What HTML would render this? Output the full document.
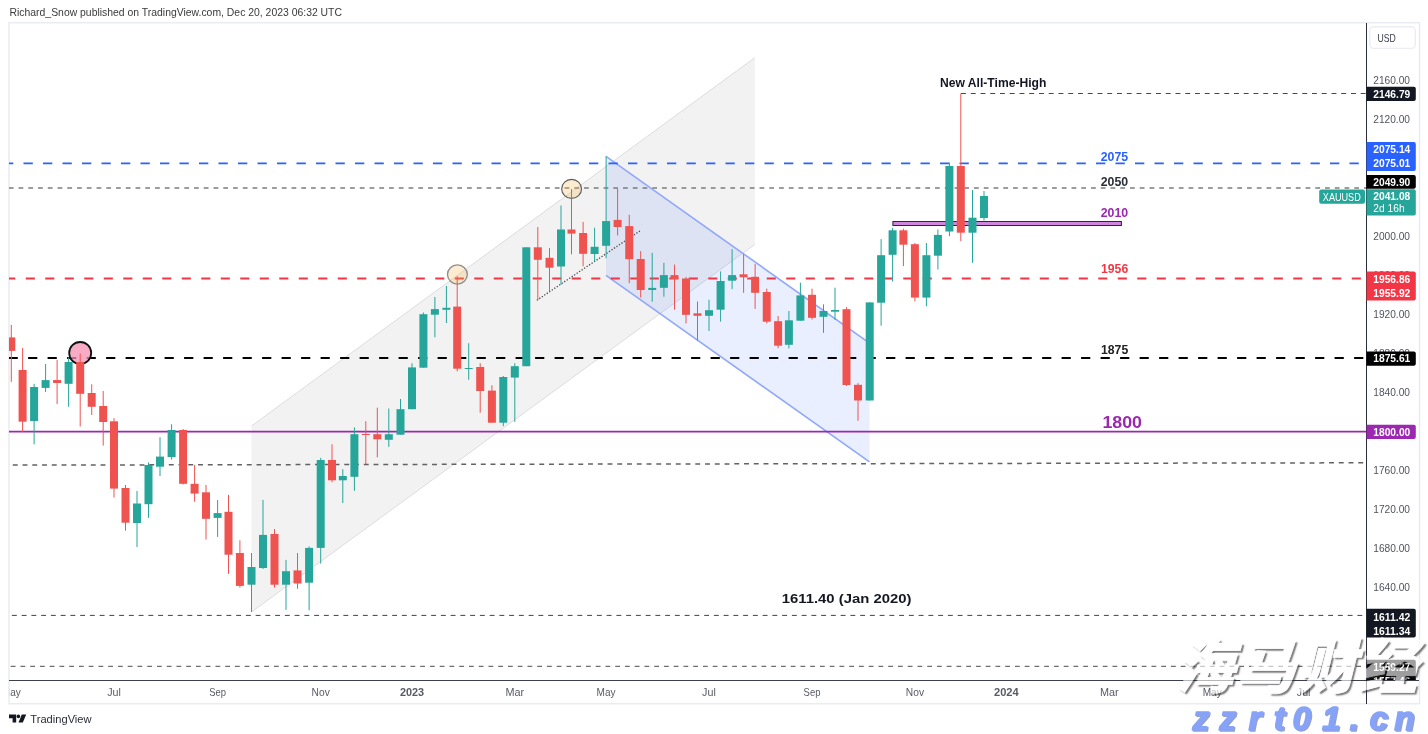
<!DOCTYPE html>
<html lang="en"><head><meta charset="utf-8"><title>XAUUSD weekly chart</title>
<style>
html,body{margin:0;padding:0;background:#fff;}
body{width:1428px;height:734px;overflow:hidden;position:relative;font-family:"Liberation Sans","Noto Sans CJK SC",sans-serif;}
svg{position:absolute;left:0;top:0;display:block}
svg text{font-family:"Liberation Sans","Noto Sans CJK SC",sans-serif;}
.wm{position:absolute;white-space:nowrap;font-style:italic;}
</style></head><body>
<svg width="1428" height="734" viewBox="0 0 1428 734">
<defs>
<clipPath id="plot"><rect x="9" y="23" width="1357" height="657"/></clipPath>
<clipPath id="taxis"><rect x="9.7" y="681" width="1357" height="23"/></clipPath>
<clipPath id="paxis"><rect x="1367" y="23" width="52" height="657"/></clipPath>
</defs>
<!-- header -->
<text x="9.5" y="15.9" font-size="10.6" fill="#3a3a3a" textLength="332.5" lengthAdjust="spacingAndGlyphs">Richard_Snow published on TradingView.com, Dec 20, 2023 06:32 UTC</text>
<!-- frame -->
<rect x="9" y="22.7" width="1410.5" height="681" fill="#fff" stroke="#eaecf3" stroke-width="1.5"/>
<g clip-path="url(#plot)">
<!-- gray channel -->
<polygon points="251.5,426 754.8,57.7 754.8,244.4 251.5,612" fill="#f2f2f2"/>
<line x1="251.5" y1="426" x2="754.8" y2="57.7" stroke="#dcdcdc" stroke-width="1"/>
<line x1="251.5" y1="612" x2="754.8" y2="244.4" stroke="#dcdcdc" stroke-width="1"/>
<!-- blue channel -->
<polygon points="606,156.4 869.5,343.1 869.5,461.9 606,275.3" fill="#2962ff" fill-opacity="0.10"/>
<line x1="606" y1="156.4" x2="869.5" y2="343.1" stroke="#90a8fb" stroke-width="1.6"/>
<line x1="606" y1="275.3" x2="869.5" y2="461.9" stroke="#90a8fb" stroke-width="1.6"/>
<!-- dotted trend -->
<line x1="536.8" y1="300.3" x2="640.7" y2="230.4" stroke="#4a4a4a" stroke-width="1.3" stroke-dasharray="1.3 1.7"/>
<!-- horizontal lines -->
<line x1="961" y1="93.5" x2="1366" y2="93.5" stroke="#45474d" stroke-width="1.1" stroke-dasharray="4.9 4.85"/>
<line x1="4" y1="163.4" x2="1366" y2="163.4" stroke="#2962ff" stroke-width="1.7" stroke-dasharray="9.3 10.2"/>
<line x1="8.8" y1="188" x2="1366" y2="188" stroke="#7c7c7c" stroke-width="1.7" stroke-dasharray="4.75 5"/>
<line x1="6.25" y1="278.5" x2="1366" y2="278.5" stroke="#f23645" stroke-width="1.9" stroke-dasharray="9.1 10.4"/>
<line x1="8.6" y1="358" x2="1366" y2="358" stroke="#000" stroke-width="2.1" stroke-dasharray="9.2 10.3"/>
<line x1="9" y1="431.6" x2="1366" y2="431.6" stroke="#9c27b0" stroke-width="1.8"/>
<line x1="12.8" y1="465.1" x2="1366" y2="462.8" stroke="#626262" stroke-width="1.5" stroke-dasharray="4.9 4.85"/>
<line x1="11.9" y1="615.4" x2="1366" y2="615.4" stroke="#3f424b" stroke-width="1" stroke-dasharray="4.9 4.85"/>
<line x1="10.7" y1="666.4" x2="1366" y2="666.4" stroke="#6f6f6f" stroke-width="1.4" stroke-dasharray="4.8 4.95"/>
<!-- purple box -->
<rect x="892.9" y="221.5" width="228.5" height="4" fill="#cf86dc" stroke="#2f2639" stroke-width="1"/>
<!-- circles -->
<circle cx="80.2" cy="353" r="11" fill="#f48fb1" fill-opacity="0.75" stroke="#111" stroke-width="1.8"/>
<ellipse cx="457.4" cy="274.5" rx="9.9" ry="9.6" fill="#f9b94e" fill-opacity="0.27" stroke="#8c8c8c" stroke-width="1.35"/>
<ellipse cx="571.6" cy="188.9" rx="9.9" ry="9.5" fill="#f9b94e" fill-opacity="0.27" stroke="#5c5c5c" stroke-width="1.15"/>
<!-- candles -->
<rect x="10.80" y="324.9" width="1" height="56.9" fill="#ef5350"/>
<rect x="7.30" y="337.4" width="8.0" height="13.5" fill="#ef5350"/>
<rect x="22.10" y="348.0" width="1" height="84.0" fill="#ef5350"/>
<rect x="18.60" y="370.0" width="8.0" height="51.7" fill="#ef5350"/>
<rect x="33.60" y="383.8" width="1" height="60.5" fill="#26a69a"/>
<rect x="30.10" y="387.0" width="8.0" height="34.0" fill="#26a69a"/>
<rect x="45.10" y="364.0" width="1" height="28.0" fill="#26a69a"/>
<rect x="41.60" y="380.1" width="8.0" height="7.8" fill="#26a69a"/>
<rect x="56.60" y="359.8" width="1" height="44.2" fill="#ef5350"/>
<rect x="53.10" y="380.0" width="8.0" height="3.0" fill="#ef5350"/>
<rect x="68.10" y="357.3" width="1" height="49.5" fill="#26a69a"/>
<rect x="64.60" y="362.0" width="8.0" height="21.8" fill="#26a69a"/>
<rect x="79.70" y="353.6" width="1" height="72.9" fill="#ef5350"/>
<rect x="76.20" y="362.0" width="8.0" height="31.8" fill="#ef5350"/>
<rect x="91.20" y="384.3" width="1" height="30.7" fill="#ef5350"/>
<rect x="87.70" y="393.0" width="8.0" height="13.8" fill="#ef5350"/>
<rect x="102.70" y="391.0" width="1" height="54.6" fill="#ef5350"/>
<rect x="99.20" y="406.0" width="8.0" height="16.0" fill="#ef5350"/>
<rect x="113.50" y="418.2" width="1" height="79.3" fill="#ef5350"/>
<rect x="110.00" y="421.3" width="8.0" height="67.3" fill="#ef5350"/>
<rect x="125.00" y="485.0" width="1" height="45.7" fill="#ef5350"/>
<rect x="121.50" y="488.0" width="8.0" height="34.7" fill="#ef5350"/>
<rect x="136.50" y="491.0" width="1" height="56.0" fill="#26a69a"/>
<rect x="133.00" y="503.5" width="8.0" height="19.5" fill="#26a69a"/>
<rect x="148.00" y="462.5" width="1" height="55.3" fill="#26a69a"/>
<rect x="144.50" y="465.0" width="8.0" height="39.2" fill="#26a69a"/>
<rect x="159.50" y="437.2" width="1" height="38.8" fill="#26a69a"/>
<rect x="156.00" y="456.6" width="8.0" height="10.1" fill="#26a69a"/>
<rect x="171.10" y="424.2" width="1" height="35.4" fill="#26a69a"/>
<rect x="167.60" y="430.0" width="8.0" height="27.0" fill="#26a69a"/>
<rect x="182.60" y="429.0" width="1" height="55.5" fill="#ef5350"/>
<rect x="179.10" y="430.0" width="8.0" height="53.8" fill="#ef5350"/>
<rect x="194.10" y="465.0" width="1" height="36.8" fill="#ef5350"/>
<rect x="190.60" y="483.8" width="8.0" height="9.8" fill="#ef5350"/>
<rect x="205.50" y="485.0" width="1" height="54.6" fill="#ef5350"/>
<rect x="202.00" y="492.3" width="8.0" height="26.5" fill="#ef5350"/>
<rect x="217.10" y="500.0" width="1" height="36.9" fill="#26a69a"/>
<rect x="213.60" y="513.1" width="8.0" height="4.8" fill="#26a69a"/>
<rect x="228.00" y="494.9" width="1" height="78.9" fill="#ef5350"/>
<rect x="224.50" y="511.8" width="8.0" height="42.9" fill="#ef5350"/>
<rect x="239.40" y="540.3" width="1" height="47.3" fill="#ef5350"/>
<rect x="235.90" y="553.0" width="8.0" height="32.9" fill="#ef5350"/>
<rect x="251.00" y="553.0" width="1" height="59.0" fill="#26a69a"/>
<rect x="247.50" y="567.0" width="8.0" height="17.7" fill="#26a69a"/>
<rect x="262.50" y="499.9" width="1" height="69.1" fill="#26a69a"/>
<rect x="259.00" y="534.9" width="8.0" height="33.1" fill="#26a69a"/>
<rect x="274.00" y="529.0" width="1" height="58.6" fill="#ef5350"/>
<rect x="270.50" y="534.0" width="8.0" height="50.7" fill="#ef5350"/>
<rect x="285.50" y="559.9" width="1" height="49.9" fill="#26a69a"/>
<rect x="282.00" y="571.2" width="8.0" height="13.5" fill="#26a69a"/>
<rect x="297.00" y="553.0" width="1" height="35.8" fill="#ef5350"/>
<rect x="293.50" y="570.4" width="8.0" height="13.1" fill="#ef5350"/>
<rect x="308.60" y="546.4" width="1" height="63.9" fill="#26a69a"/>
<rect x="305.10" y="547.9" width="8.0" height="34.8" fill="#26a69a"/>
<rect x="320.20" y="457.8" width="1" height="105.8" fill="#26a69a"/>
<rect x="316.70" y="460.0" width="8.0" height="87.9" fill="#26a69a"/>
<rect x="331.50" y="444.3" width="1" height="38.0" fill="#ef5350"/>
<rect x="328.00" y="460.0" width="8.0" height="20.3" fill="#ef5350"/>
<rect x="342.30" y="469.2" width="1" height="33.8" fill="#26a69a"/>
<rect x="338.80" y="476.0" width="8.0" height="4.3" fill="#26a69a"/>
<rect x="353.90" y="427.4" width="1" height="63.4" fill="#26a69a"/>
<rect x="350.40" y="434.2" width="8.0" height="42.6" fill="#26a69a"/>
<rect x="365.30" y="421.2" width="1" height="43.1" fill="#ef5350"/>
<rect x="361.80" y="434.0" width="8.0" height="1.0" fill="#ef5350"/>
<rect x="376.80" y="407.7" width="1" height="49.6" fill="#ef5350"/>
<rect x="373.30" y="434.2" width="8.0" height="5.1" fill="#ef5350"/>
<rect x="388.30" y="408.5" width="1" height="38.4" fill="#26a69a"/>
<rect x="384.80" y="434.2" width="8.0" height="5.6" fill="#26a69a"/>
<rect x="400.00" y="399.0" width="1" height="35.7" fill="#26a69a"/>
<rect x="396.50" y="409.2" width="8.0" height="25.5" fill="#26a69a"/>
<rect x="411.50" y="363.2" width="1" height="46.0" fill="#26a69a"/>
<rect x="408.00" y="367.4" width="8.0" height="41.8" fill="#26a69a"/>
<rect x="422.90" y="312.5" width="1" height="55.2" fill="#26a69a"/>
<rect x="419.40" y="314.2" width="8.0" height="53.5" fill="#26a69a"/>
<rect x="434.40" y="297.0" width="1" height="40.3" fill="#26a69a"/>
<rect x="430.90" y="309.1" width="8.0" height="5.6" fill="#26a69a"/>
<rect x="445.90" y="286.0" width="1" height="37.0" fill="#26a69a"/>
<rect x="442.40" y="307.8" width="8.0" height="2.0" fill="#26a69a"/>
<rect x="456.70" y="276.2" width="1" height="95.1" fill="#ef5350"/>
<rect x="453.20" y="306.6" width="8.0" height="62.1" fill="#ef5350"/>
<rect x="468.20" y="343.2" width="1" height="36.6" fill="#26a69a"/>
<rect x="464.70" y="368.0" width="8.0" height="1.0" fill="#26a69a"/>
<rect x="479.70" y="363.2" width="1" height="49.5" fill="#ef5350"/>
<rect x="476.20" y="367.0" width="8.0" height="24.0" fill="#ef5350"/>
<rect x="491.40" y="385.2" width="1" height="37.5" fill="#ef5350"/>
<rect x="487.90" y="390.6" width="8.0" height="32.1" fill="#ef5350"/>
<rect x="502.80" y="376.0" width="1" height="50.2" fill="#26a69a"/>
<rect x="499.30" y="377.0" width="8.0" height="45.7" fill="#26a69a"/>
<rect x="514.30" y="363.2" width="1" height="58.7" fill="#26a69a"/>
<rect x="510.80" y="366.2" width="8.0" height="11.4" fill="#26a69a"/>
<rect x="525.80" y="247.3" width="1" height="118.9" fill="#26a69a"/>
<rect x="522.30" y="247.3" width="8.0" height="118.9" fill="#26a69a"/>
<rect x="537.30" y="227.0" width="1" height="73.2" fill="#ef5350"/>
<rect x="533.80" y="247.3" width="8.0" height="12.5" fill="#ef5350"/>
<rect x="549.00" y="248.1" width="1" height="42.9" fill="#ef5350"/>
<rect x="545.50" y="257.8" width="8.0" height="9.9" fill="#ef5350"/>
<rect x="560.50" y="205.5" width="1" height="79.3" fill="#26a69a"/>
<rect x="557.00" y="229.5" width="8.0" height="37.0" fill="#26a69a"/>
<rect x="571.00" y="189.0" width="1" height="65.3" fill="#ef5350"/>
<rect x="567.50" y="229.5" width="8.0" height="4.1" fill="#ef5350"/>
<rect x="582.60" y="221.9" width="1" height="44.4" fill="#ef5350"/>
<rect x="579.10" y="233.0" width="8.0" height="20.8" fill="#ef5350"/>
<rect x="594.10" y="227.8" width="1" height="33.4" fill="#26a69a"/>
<rect x="590.60" y="246.8" width="8.0" height="7.2" fill="#26a69a"/>
<rect x="605.60" y="156.4" width="1" height="101.9" fill="#26a69a"/>
<rect x="602.10" y="221.1" width="8.0" height="24.7" fill="#26a69a"/>
<rect x="617.10" y="189.0" width="1" height="46.5" fill="#ef5350"/>
<rect x="613.60" y="219.9" width="8.0" height="7.1" fill="#ef5350"/>
<rect x="628.75" y="214.8" width="1" height="68.4" fill="#ef5350"/>
<rect x="625.25" y="226.1" width="8.0" height="33.1" fill="#ef5350"/>
<rect x="640.20" y="251.1" width="1" height="46.5" fill="#ef5350"/>
<rect x="636.70" y="259.0" width="8.0" height="31.0" fill="#ef5350"/>
<rect x="651.70" y="252.8" width="1" height="49.0" fill="#26a69a"/>
<rect x="648.20" y="287.9" width="8.0" height="2.1" fill="#26a69a"/>
<rect x="663.40" y="262.9" width="1" height="33.8" fill="#26a69a"/>
<rect x="659.90" y="275.1" width="8.0" height="12.7" fill="#26a69a"/>
<rect x="674.00" y="264.6" width="1" height="45.1" fill="#ef5350"/>
<rect x="670.50" y="275.1" width="8.0" height="3.9" fill="#ef5350"/>
<rect x="685.50" y="277.0" width="1" height="46.4" fill="#ef5350"/>
<rect x="682.00" y="278.5" width="8.0" height="36.3" fill="#ef5350"/>
<rect x="697.00" y="301.5" width="1" height="39.1" fill="#ef5350"/>
<rect x="693.50" y="313.3" width="8.0" height="2.5" fill="#ef5350"/>
<rect x="708.50" y="299.8" width="1" height="31.2" fill="#26a69a"/>
<rect x="705.00" y="310.2" width="8.0" height="5.6" fill="#26a69a"/>
<rect x="720.10" y="271.4" width="1" height="50.3" fill="#26a69a"/>
<rect x="716.60" y="281.0" width="8.0" height="28.7" fill="#26a69a"/>
<rect x="731.60" y="249.1" width="1" height="40.0" fill="#26a69a"/>
<rect x="728.10" y="275.1" width="8.0" height="5.6" fill="#26a69a"/>
<rect x="743.10" y="254.2" width="1" height="38.6" fill="#ef5350"/>
<rect x="739.60" y="274.3" width="8.0" height="3.0" fill="#ef5350"/>
<rect x="754.60" y="263.8" width="1" height="45.1" fill="#ef5350"/>
<rect x="751.10" y="276.8" width="8.0" height="16.0" fill="#ef5350"/>
<rect x="766.25" y="288.6" width="1" height="34.8" fill="#ef5350"/>
<rect x="762.75" y="292.0" width="8.0" height="29.7" fill="#ef5350"/>
<rect x="777.60" y="316.0" width="1" height="32.2" fill="#ef5350"/>
<rect x="774.10" y="321.2" width="8.0" height="24.5" fill="#ef5350"/>
<rect x="788.40" y="311.0" width="1" height="37.4" fill="#26a69a"/>
<rect x="784.90" y="320.3" width="8.0" height="24.5" fill="#26a69a"/>
<rect x="799.90" y="282.7" width="1" height="38.0" fill="#26a69a"/>
<rect x="796.40" y="295.4" width="8.0" height="25.3" fill="#26a69a"/>
<rect x="811.50" y="288.6" width="1" height="30.9" fill="#ef5350"/>
<rect x="808.00" y="294.8" width="8.0" height="23.0" fill="#ef5350"/>
<rect x="823.00" y="304.3" width="1" height="28.5" fill="#26a69a"/>
<rect x="819.50" y="311.0" width="8.0" height="5.8" fill="#26a69a"/>
<rect x="834.50" y="287.7" width="1" height="32.1" fill="#26a69a"/>
<rect x="831.00" y="310.0" width="8.0" height="1.7" fill="#26a69a"/>
<rect x="846.00" y="307.2" width="1" height="78.8" fill="#ef5350"/>
<rect x="842.50" y="309.2" width="8.0" height="75.8" fill="#ef5350"/>
<rect x="857.50" y="383.1" width="1" height="37.7" fill="#ef5350"/>
<rect x="854.00" y="384.8" width="8.0" height="15.7" fill="#ef5350"/>
<rect x="869.20" y="302.4" width="1" height="98.1" fill="#26a69a"/>
<rect x="865.70" y="302.4" width="8.0" height="98.1" fill="#26a69a"/>
<rect x="880.60" y="239.1" width="1" height="86.6" fill="#26a69a"/>
<rect x="877.10" y="255.2" width="8.0" height="47.5" fill="#26a69a"/>
<rect x="892.10" y="227.8" width="1" height="53.8" fill="#26a69a"/>
<rect x="888.60" y="230.3" width="8.0" height="24.5" fill="#26a69a"/>
<rect x="902.90" y="228.6" width="1" height="37.5" fill="#ef5350"/>
<rect x="899.40" y="230.3" width="8.0" height="14.4" fill="#ef5350"/>
<rect x="914.40" y="243.0" width="1" height="58.3" fill="#ef5350"/>
<rect x="910.90" y="244.2" width="8.0" height="53.4" fill="#ef5350"/>
<rect x="925.90" y="243.0" width="1" height="63.3" fill="#26a69a"/>
<rect x="922.40" y="255.2" width="8.0" height="42.4" fill="#26a69a"/>
<rect x="937.40" y="229.5" width="1" height="40.0" fill="#26a69a"/>
<rect x="933.90" y="234.9" width="8.0" height="20.8" fill="#26a69a"/>
<rect x="948.90" y="162.6" width="1" height="73.7" fill="#26a69a"/>
<rect x="945.40" y="166.0" width="8.0" height="65.5" fill="#26a69a"/>
<rect x="960.30" y="93.4" width="1" height="147.7" fill="#ef5350"/>
<rect x="956.80" y="166.0" width="8.0" height="66.7" fill="#ef5350"/>
<rect x="972.00" y="190.1" width="1" height="72.7" fill="#26a69a"/>
<rect x="968.50" y="217.7" width="8.0" height="15.0" fill="#26a69a"/>
<rect x="983.50" y="191.0" width="1" height="29.5" fill="#26a69a"/>
<rect x="980.00" y="196.0" width="8.0" height="22.0" fill="#26a69a"/>
<!-- annotations -->
<g font-weight="700" font-size="12">
<text x="940" y="86.8" fill="#131722" textLength="106.4" lengthAdjust="spacingAndGlyphs">New All-Time-High</text>
<text x="1100.7" y="160.8" fill="#2962ff" textLength="27.4" lengthAdjust="spacingAndGlyphs">2075</text>
<text x="1100.7" y="185.6" fill="#2a2e39" textLength="27.4" lengthAdjust="spacingAndGlyphs">2050</text>
<text x="1100.7" y="216.5" fill="#9c27b0" textLength="27.4" lengthAdjust="spacingAndGlyphs">2010</text>
<text x="1101" y="272.8" fill="#f23645" textLength="27.2" lengthAdjust="spacingAndGlyphs">1956</text>
<text x="1101" y="353.8" fill="#222" textLength="27.2" lengthAdjust="spacingAndGlyphs">1875</text>
<text x="1102.4" y="428" fill="#9c27b0" font-size="16" textLength="39.6" lengthAdjust="spacingAndGlyphs">1800</text>
<text x="781.7" y="602.9" fill="#131722" font-size="13" textLength="129.8" lengthAdjust="spacingAndGlyphs">1611.40 (Jan 2020)</text>
</g>
</g>
<!-- axes -->
<line x1="9" y1="680.5" x2="1419" y2="680.5" stroke="#3c404c" stroke-width="1"/>
<line x1="1366.5" y1="23" x2="1366.5" y2="704" stroke="#2a2e39" stroke-width="1"/>
<g clip-path="url(#taxis)" font-size="10.6" fill="#585b66">
<text x="1.8" y="695.6" textLength="19.0" lengthAdjust="spacingAndGlyphs">May</text>
<text x="107.2" y="695.6" textLength="13.7" lengthAdjust="spacingAndGlyphs">Jul</text>
<text x="209.2" y="695.6" textLength="16.8" lengthAdjust="spacingAndGlyphs">Sep</text>
<text x="311.6" y="695.6" textLength="18.2" lengthAdjust="spacingAndGlyphs">Nov</text>
<text x="399.9" y="695.6" textLength="24.2" lengthAdjust="spacingAndGlyphs" font-weight="700">2023</text>
<text x="505.4" y="695.6" textLength="18.7" lengthAdjust="spacingAndGlyphs">Mar</text>
<text x="596.6" y="695.6" textLength="19.0" lengthAdjust="spacingAndGlyphs">May</text>
<text x="702.1" y="695.6" textLength="13.7" lengthAdjust="spacingAndGlyphs">Jul</text>
<text x="803.6" y="695.6" textLength="16.8" lengthAdjust="spacingAndGlyphs">Sep</text>
<text x="905.8" y="695.6" textLength="18.2" lengthAdjust="spacingAndGlyphs">Nov</text>
<text x="994.0" y="695.6" textLength="24.7" lengthAdjust="spacingAndGlyphs" font-weight="700">2024</text>
<text x="1099.9" y="695.6" textLength="18.7" lengthAdjust="spacingAndGlyphs">Mar</text>
<text x="1202.7" y="695.6" textLength="19.0" lengthAdjust="spacingAndGlyphs">May</text>
<text x="1296.8" y="695.6" textLength="13.7" lengthAdjust="spacingAndGlyphs">Jul</text>
</g>
<g clip-path="url(#paxis)" font-size="10.3" fill="#50535e">
<text x="1373.3" y="84.4" textLength="36.7" lengthAdjust="spacingAndGlyphs">2160.00</text>
<text x="1373.3" y="123.4" textLength="36.7" lengthAdjust="spacingAndGlyphs">2120.00</text>
<text x="1373.3" y="162.4" textLength="36.7" lengthAdjust="spacingAndGlyphs">2080.00</text>
<text x="1373.3" y="201.4" textLength="36.7" lengthAdjust="spacingAndGlyphs">2040.00</text>
<text x="1373.3" y="240.4" textLength="36.7" lengthAdjust="spacingAndGlyphs">2000.00</text>
<text x="1373.3" y="279.4" textLength="36.7" lengthAdjust="spacingAndGlyphs">1960.00</text>
<text x="1373.3" y="318.4" textLength="36.7" lengthAdjust="spacingAndGlyphs">1920.00</text>
<text x="1373.3" y="357.4" textLength="36.7" lengthAdjust="spacingAndGlyphs">1880.00</text>
<text x="1373.3" y="396.4" textLength="36.7" lengthAdjust="spacingAndGlyphs">1840.00</text>
<text x="1373.3" y="435.4" textLength="36.7" lengthAdjust="spacingAndGlyphs">1800.00</text>
<text x="1373.3" y="474.4" textLength="36.7" lengthAdjust="spacingAndGlyphs">1760.00</text>
<text x="1373.3" y="513.4" textLength="36.7" lengthAdjust="spacingAndGlyphs">1720.00</text>
<text x="1373.3" y="552.4" textLength="36.7" lengthAdjust="spacingAndGlyphs">1680.00</text>
<text x="1373.3" y="591.4" textLength="36.7" lengthAdjust="spacingAndGlyphs">1640.00</text>
<text x="1373.3" y="630.4" textLength="36.7" lengthAdjust="spacingAndGlyphs">1600.00</text>
<text x="1373.3" y="669.4" textLength="36.7" lengthAdjust="spacingAndGlyphs">1560.00</text>
</g>
<!-- USD box -->
<rect x="1369.7" y="26.8" width="45.6" height="21.6" rx="4" fill="#fff" stroke="#ebedf2" stroke-width="1.4"/>
<text x="1377.5" y="41.7" font-size="10.2" fill="#3a3d48" textLength="18.3" lengthAdjust="spacingAndGlyphs">USD</text>
<!-- price tags -->
<g font-size="10.2" font-weight="700" fill="#fff">
<path d="M1366.5 86.7h47.3a2 2 0 0 1 2 2v10.2a2 2 0 0 1 -2 2h-47.3z" fill="#131722"/>
<text x="1373.3" y="97.5" textLength="37" lengthAdjust="spacingAndGlyphs">2146.79</text>
<path d="M1366.5 142h47.3a2 2 0 0 1 2 2v25a2 2 0 0 1 -2 2h-47.3z" fill="#2962ff"/>
<text x="1373.3" y="153.2" textLength="37" lengthAdjust="spacingAndGlyphs">2075.14</text>
<text x="1373.3" y="167.4" textLength="37" lengthAdjust="spacingAndGlyphs">2075.01</text>
<path d="M1366.5 175h47.3a2 2 0 0 1 2 2v9.8a2 2 0 0 1 -2 2h-47.3z" fill="#000"/>
<text x="1373.3" y="185.7" textLength="37" lengthAdjust="spacingAndGlyphs">2049.90</text>
<rect x="1319.2" y="189.5" width="45.8" height="14.2" rx="2" fill="#26a69a"/>
<text x="1322.8" y="200.6" font-weight="400" font-size="10.2" textLength="38" lengthAdjust="spacingAndGlyphs">XAUUSD</text>
<path d="M1366.5 189.2h47.3a2 2 0 0 1 2 2v22.2a2 2 0 0 1 -2 2h-47.3z" fill="#26a69a"/>
<text x="1373.3" y="200.4" textLength="37" lengthAdjust="spacingAndGlyphs">2041.08</text>
<text x="1373.3" y="212.3" font-weight="400" textLength="31.3" lengthAdjust="spacingAndGlyphs">2d 16h</text>
<path d="M1366.5 271.5h47.3a2 2 0 0 1 2 2v25a2 2 0 0 1 -2 2h-47.3z" fill="#f23645"/>
<text x="1373.3" y="283" textLength="37" lengthAdjust="spacingAndGlyphs">1956.86</text>
<text x="1373.3" y="297.2" textLength="37" lengthAdjust="spacingAndGlyphs">1955.92</text>
<path d="M1366.5 351.5h47.3a2 2 0 0 1 2 2v10.2a2 2 0 0 1 -2 2h-47.3z" fill="#000"/>
<text x="1373.3" y="362.4" textLength="37" lengthAdjust="spacingAndGlyphs">1875.61</text>
<path d="M1366.5 424.8h47.3a2 2 0 0 1 2 2v10.2a2 2 0 0 1 -2 2h-47.3z" fill="#9c27b0"/>
<text x="1373.3" y="435.9" textLength="37" lengthAdjust="spacingAndGlyphs">1800.00</text>
<path d="M1366.5 608.8h47.3a2 2 0 0 1 2 2v24.8a2 2 0 0 1 -2 2h-47.3z" fill="#131722"/>
<text x="1373.3" y="620.5" textLength="37" lengthAdjust="spacingAndGlyphs">1611.42</text>
<text x="1373.3" y="634.8" textLength="37" lengthAdjust="spacingAndGlyphs">1611.34</text>
<g clip-path="url(#paxis)"><path d="M1366.5 659.8h47.3a2 2 0 0 1 2 2v25a2 2 0 0 1 -2 2h-47.3z" fill="#000"/>
<text x="1373.3" y="670.7" textLength="37" lengthAdjust="spacingAndGlyphs">1559.27</text>
<text x="1373.3" y="685" textLength="37" lengthAdjust="spacingAndGlyphs">1557.46</text></g>
</g>
<!-- TradingView logo -->
<g fill="#131722">
<path d="M9 714.6h7.2v7.9h-3.6v-4.3H9z"/>
<circle cx="18.4" cy="716.4" r="1.8"/>
<path d="M21.8 714.6h4.4l-3.4 7.9h-4.3z"/>
</g>
<text x="30.3" y="722.6" font-size="11.6" fill="#2a2e39" textLength="61.3" lengthAdjust="spacingAndGlyphs">TradingView</text>
</svg>
<!-- watermark -->
<div class="wm" style="left:1175px;top:628px;font-weight:900;font-size:59px;line-height:80px;color:#fff;opacity:0.62;text-shadow:2px 2px 1.5px #2a2a2a;letter-spacing:2px;-webkit-text-stroke:0.7px #fff;">海马财经</div>
<svg width="1428" height="734" viewBox="0 0 1428 734" style="pointer-events:none">
<g font-size="33" font-weight="700" font-style="italic" stroke-linejoin="round">
<text y="729.5" x="1192.5 1219.3 1248.6 1273.8 1292.4 1321.9 1349.5 1369.5 1394.3" fill="#7b88bd" stroke="#7b88bd" stroke-width="1.4" opacity="0.8" transform="translate(1.2 1.2)">zzrt01.cn</text>
<text y="729.5" x="1192.5 1219.3 1248.6 1273.8 1292.4 1321.9 1349.5 1369.5 1394.3" fill="#87a3f8" stroke="#87a3f8" stroke-width="1.4">zzrt01.cn</text>
</g>
</svg>
</body></html>
